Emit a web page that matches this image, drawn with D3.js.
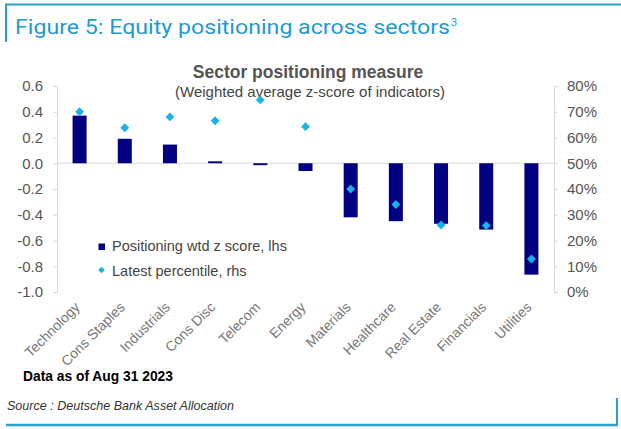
<!DOCTYPE html>
<html><head><meta charset="utf-8">
<script src="https://cdn.jsdelivr.net/npm/d3@7"></script>
<style>body{margin:0;background:#fff}svg{display:block}</style>
</head><body>
<svg id="c" width="621" height="429"></svg>
<script>
const categories = ["Technology","Cons Staples","Industrials","Cons Disc","Telecom","Energy","Materials","Healthcare","Real Estate","Financials","Utilities"];
const zScores = [0.37,0.19,0.145,0.015,-0.015,-0.06,-0.42,-0.45,-0.47,-0.515,-0.865];
const percentiles = [0.70,0.638,0.68,0.665,0.746,0.642,0.40,0.34,0.26,0.258,0.128];
const leftTicks = [0.6,0.4,0.2,0.0,-0.2,-0.4,-0.6,-0.8,-1.0];
const rightTicks = [0,0.1,0.2,0.3,0.4,0.5,0.6,0.7,0.8];

const svg = d3.select("#c");
const frame = "#2a9fd0";
const font = "'Liberation Sans', Arial, sans-serif";

// frame
svg.append("line").attr("x1",5).attr("x2",621).attr("y1",4.5).attr("y2",4.5).attr("stroke",frame).attr("stroke-width",2);
svg.append("line").attr("x1",6).attr("x2",6).attr("y1",4).attr("y2",42).attr("stroke",frame).attr("stroke-width",2);
svg.append("line").attr("x1",6).attr("x2",618).attr("y1",425).attr("y2",425).attr("stroke",frame).attr("stroke-width",2.5);
svg.append("line").attr("x1",617).attr("x2",617).attr("y1",398).attr("y2",426).attr("stroke",frame).attr("stroke-width",2);

const title = svg.append("text").attr("x",15).attr("y",34).attr("fill","#1f9ad0")
  .style("font-family","Roboto, 'Liberation Sans', sans-serif").style("font-size","19.5px");
title.append("tspan").text("Figure 5: Equity positioning across sectors")
  .attr("textLength",435).attr("lengthAdjust","spacingAndGlyphs");
title.append("tspan").text("3").attr("dy",-8).attr("dx",1).style("font-size","11px");

const L = 57, R = 554, T = 86, B = 292;
const x = d3.scaleBand().domain(categories).range([L,R]).paddingInner(0.69).paddingOuter(0.345);
const y = d3.scaleLinear().domain([-1,0.6]).range([B,T]);
const y2 = d3.scaleLinear().domain([0,0.8]).range([B,T]);

svg.append("text").attr("x",308).attr("y",78).attr("text-anchor","middle").attr("fill","#555")
  .style("font-family",font).style("font-size","17.5px").style("font-weight","bold")
  .text("Sector positioning measure");
svg.append("text").attr("x",310).attr("y",97).attr("text-anchor","middle").attr("fill","#444")
  .style("font-family",font).style("font-size","15px")
  .text("(Weighted average z-score of indicators)");

const ax = svg.append("g").attr("transform",`translate(${L},0)`)
  .call(d3.axisLeft(y).tickValues(leftTicks).tickFormat(d3.format(".1f")).tickSize(4).tickPadding(10));
const ax2 = svg.append("g").attr("transform",`translate(${R},0)`)
  .call(d3.axisRight(y2).tickValues(rightTicks).tickFormat(d3.format(".0%")).tickSize(4).tickPadding(9));
[ax,ax2].forEach(a=>{
  a.select(".domain").attr("stroke","#d9d9d9");
  a.selectAll(".tick line").attr("stroke","#d9d9d9");
  a.selectAll(".tick text").attr("fill","#555").style("font-family",font).style("font-size","15px");
});
ax.selectAll(".tick text").text(d=>d3.format(".1f")(d).replace("−","-"));

// zero line
svg.append("line").attr("x1",L).attr("x2",R).attr("y1",y(0)).attr("y2",y(0)).attr("stroke","#d9d9d9");

svg.append("g").selectAll("rect").data(categories).join("rect")
  .attr("x",d=>x(d)).attr("width",x.bandwidth())
  .attr("y",(d,i)=>y(Math.max(0,zScores[i])))
  .attr("height",(d,i)=>Math.abs(y(zScores[i])-y(0)))
  .attr("fill","#000080");

const dsym = d3.symbol().type(d3.symbolDiamond2).size(50);
svg.append("g").selectAll("path").data(categories).join("path")
  .attr("d",dsym).attr("fill","#19b2ea")
  .attr("transform",(d,i)=>`translate(${x(d)+x.bandwidth()/2},${y2(percentiles[i])})`);

// x labels
svg.append("g").selectAll("text").data(categories).join("text")
  .attr("transform",d=>`translate(${x(d)+x.bandwidth()/2+1},${B+16}) rotate(-45)`)
  .attr("text-anchor","end").attr("fill","#777")
  .style("font-family",font).style("font-size","14px").text(d=>d);

// legend
svg.append("rect").attr("x",98.5).attr("y",243.5).attr("width",6.5).attr("height",6.5).attr("fill","#000080");
svg.append("path").attr("d",d3.symbol().type(d3.symbolDiamond2).size(28)).attr("fill","#19b2ea")
  .attr("transform","translate(101.5,270)");
svg.append("text").attr("x",112).attr("y",251).attr("fill","#444").style("font-family",font).style("font-size","14.5px")
  .text("Positioning wtd z score, lhs");
svg.append("text").attr("x",112).attr("y",275.5).attr("fill","#444").style("font-family",font).style("font-size","14.5px")
  .text("Latest percentile, rhs");

svg.append("text").attr("x",23).attr("y",381).attr("fill","#000").style("font-family",font)
  .style("font-size","14px").style("font-weight","bold").text("Data as of Aug 31 2023")
  .attr("textLength",150).attr("lengthAdjust","spacingAndGlyphs");
svg.append("text").attr("x",7).attr("y",410).attr("fill","#333").style("font-family",font)
  .style("font-size","12.5px").style("font-style","italic").text("Source : Deutsche Bank Asset Allocation")
  .attr("textLength",227).attr("lengthAdjust","spacingAndGlyphs");
</script>
</body></html>
